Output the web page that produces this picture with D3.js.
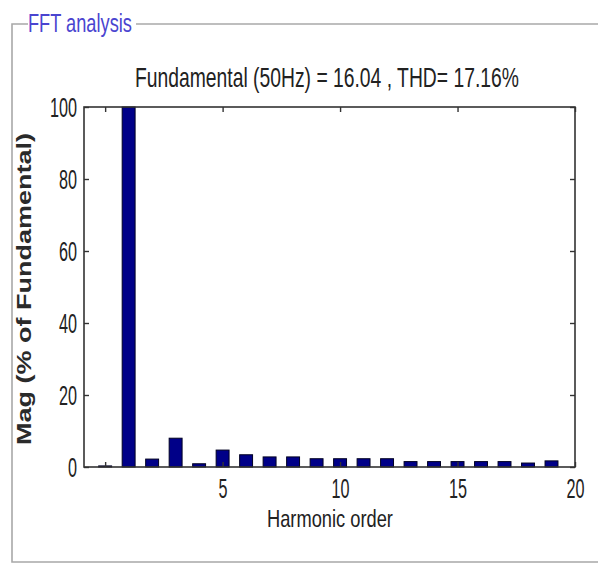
<!DOCTYPE html>
<html>
<head>
<meta charset="utf-8">
<script src="https://cdn.jsdelivr.net/npm/d3@7"></script>
<style>
  html, body { margin: 0; padding: 0; background: #fff; }
  svg { display: block; }
  text { font-family: "Liberation Sans", Arial, sans-serif; fill: #222; }
</style>
</head>
<body>
<svg id="chart" width="598" height="565"></svg>
<script>
// harmonic spectrum (% of fundamental)
var harmonicOrder = [0, 1, 2, 3, 4, 5, 6, 7, 8, 9, 10, 11, 12, 13, 14, 15, 16, 17, 18, 19];
var magnitude = [0.3, 100, 2.2, 8.0, 0.9, 4.7, 3.4, 2.8, 2.8, 2.3, 2.3, 2.3, 2.3, 1.5, 1.5, 1.5, 1.5, 1.5, 1.1, 1.7];

var xTicks = [0, 5, 10, 15, 20];
var xTickLabels = ['', '5', '10', '15', '20'];
var yTicks = [0, 20, 40, 60, 80, 100];
var xDomain = [-0.9, 20];
var yDomain = [0, 100];

var panelTitle = 'FFT analysis';
var chartTitle = 'Fundamental (50Hz) = 16.04 , THD= 17.16%';
var xLabel = 'Harmonic order';
var yLabel = 'Mag (% of Fundamental)';

//============================================================
// Layout
//------------------------------------------------------------

var svg = d3.select('#chart');
var plot = {left: 84, top: 107, right: 575, bottom: 467};
var squeeze = 0.6; // text in the picture is horizontally condensed
var barWidth = 0.55;

var x = d3.scaleLinear().domain(xDomain).range([plot.left, plot.right]);
var y = d3.scaleLinear().domain(yDomain).range([plot.bottom, plot.top]);

// stretch a text node horizontally so it spans a given width
function fitWidth(sel, w) {
  sel.each(function() {
    var len = this.getComputedTextLength();
    var t = d3.select(this);
    var cx = +t.attr('data-x'), cy = +t.attr('data-y');
    t.attr('transform', 'translate(' + cx + ',' + cy + ') scale(' + (w / len) + ',1)');
  });
}

//------------------------------------------------------------
// Group box

var box = svg.append('g').attr('class', 'group-box')
  .attr('fill', 'none').attr('stroke', '#a8a8a8').attr('stroke-width', 1.6);
box.append('path').attr('d', 'M28,24 H12 V562 H598');
box.append('path').attr('d', 'M136,24 H598');

svg.append('text')
  .attr('data-x', 28).attr('data-y', 32)
  .style('fill', '#4a44d0')
  .style('font-size', '25px')
  .text(panelTitle)
  .call(fitWidth, 104);

//------------------------------------------------------------
// Bars

svg.append('g').attr('class', 'bars')
  .selectAll('rect')
  .data(harmonicOrder)
  .enter().append('rect')
    .attr('x', function(d) { return x(d - barWidth / 2); })
    .attr('width', function(d) { return x(barWidth) - x(0); })
    .attr('y', function(d, i) { return y(magnitude[i]); })
    .attr('height', function(d, i) { return y(0) - y(magnitude[i]); })
    .attr('fill', '#000088')
    .attr('stroke', '#000022')
    .attr('stroke-width', 1);

//------------------------------------------------------------
// Axes (ticks point inward, box all round)

var tickLen = 5;

var xAxis = svg.append('g')
  .attr('transform', 'translate(0,' + plot.bottom + ')')
  .call(d3.axisBottom(x).tickValues(xTicks).tickSize(-tickLen).tickPadding(12)
    .tickFormat(function(d, i) { return xTickLabels[i]; }));

var xTop = svg.append('g')
  .attr('transform', 'translate(0,' + plot.top + ')')
  .call(d3.axisTop(x).tickValues(xTicks).tickSize(-tickLen).tickFormat(''));

var yAxis = svg.append('g')
  .attr('transform', 'translate(' + plot.left + ',0)')
  .call(d3.axisLeft(y).tickValues(yTicks).tickSize(-tickLen).tickPadding(7));

var yRight = svg.append('g')
  .attr('transform', 'translate(' + plot.right + ',0)')
  .call(d3.axisRight(y).tickValues(yTicks).tickSize(-tickLen).tickFormat(''));

[xAxis, xTop, yAxis, yRight].forEach(function(a) {
  a.select('.domain').remove();
  a.selectAll('line').attr('stroke', '#333').attr('stroke-width', 1.4);
  a.selectAll('text').style('font-size', '27px').attr('fill', '#2a2a2a')
    .style('font-family', '"Liberation Sans", Arial, sans-serif');
});

xAxis.selectAll('text')
  .attr('dy', '0.71em')
  .attr('transform', 'scale(' + squeeze + ',1)');

yAxis.selectAll('text')
  .attr('x', -7 / squeeze)
  .attr('dy', '0.36em')
  .attr('transform', 'scale(' + squeeze + ',1)');

svg.append('rect')
  .attr('x', plot.left).attr('y', plot.top)
  .attr('width', plot.right - plot.left).attr('height', plot.bottom - plot.top)
  .attr('fill', 'none').attr('stroke', '#333').attr('stroke-width', 1.6);

//------------------------------------------------------------
// Titles

svg.append('text')
  .attr('data-x', 135).attr('data-y', 87)
  .style('font-size', '27px')
  .attr('fill', '#2a2a2a')
  .text(chartTitle)
  .call(fitWidth, 384);

svg.append('text')
  .attr('data-x', 267).attr('data-y', 527)
  .style('font-size', '24px')
  .attr('fill', '#2a2a2a')
  .text(xLabel)
  .call(fitWidth, 126);

var yl = svg.append('text')
  .style('font-size', '21px')
  .style('font-weight', 'bold')
  .style('fill', '#2a2a2a')
  .attr('text-anchor', 'middle')
  .text(yLabel);
var ylLen = yl.node().getComputedTextLength();
yl.attr('transform', 'translate(31,289) rotate(-90) scale(' + (312 / ylLen) + ',1)');
</script>
</body>
</html>
